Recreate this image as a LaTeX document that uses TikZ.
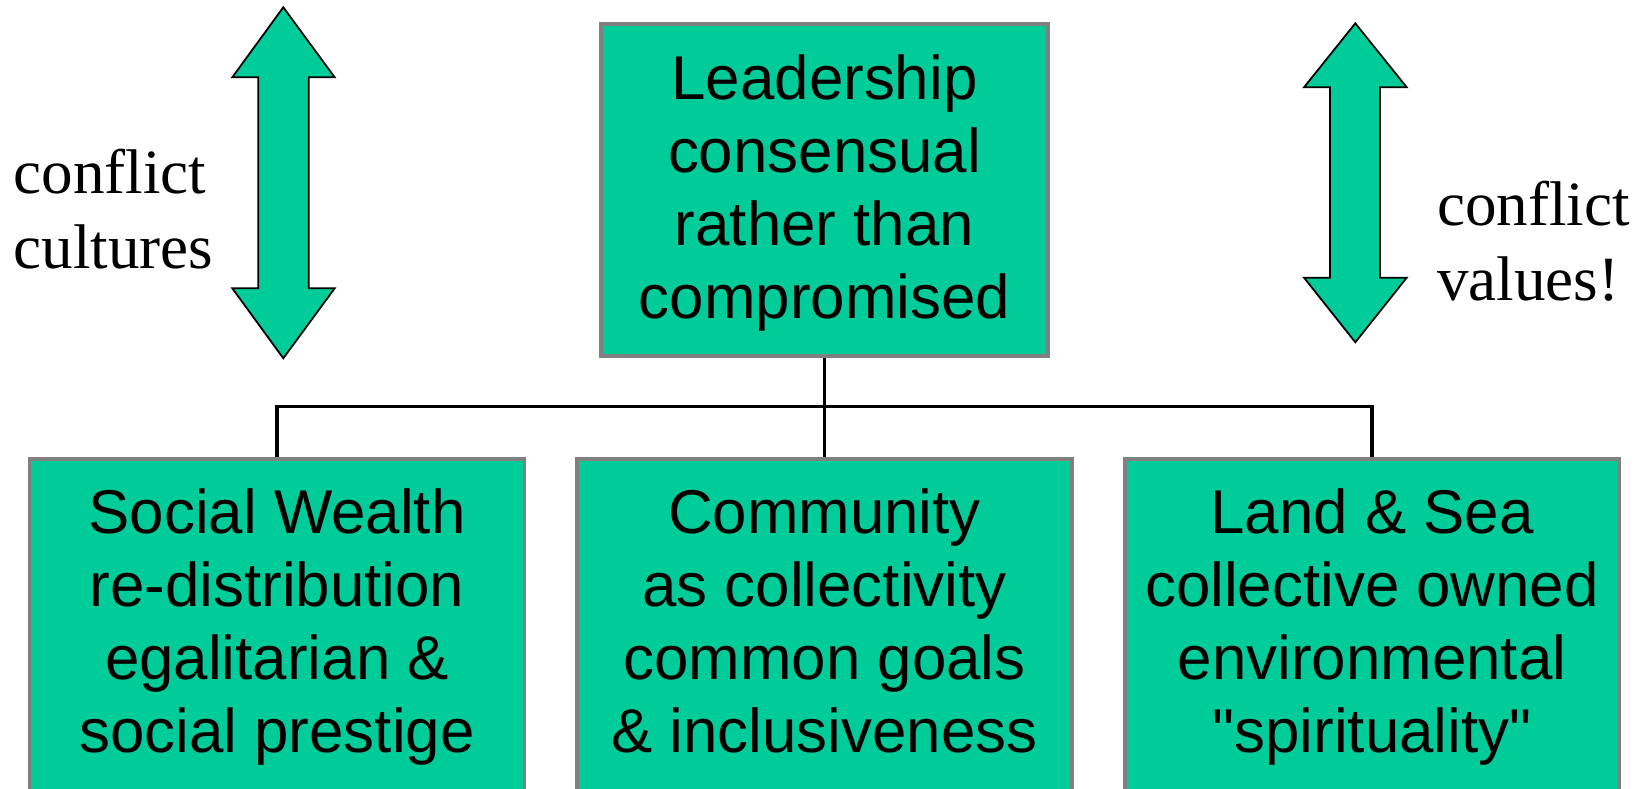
\documentclass[tikz,border=0pt]{standalone}
\usepackage{fontspec}
\setmainfont{Liberation Serif}
\newfontfamily\boxfont{Liberation Sans}
\usepackage{tikz}
\usepackage{xcolor}
\definecolor{boxgreen}{HTML}{00CC99}
\definecolor{boxgray}{HTML}{808080}

\begin{document}
\begin{tikzpicture}[x=0.02cm, y=0.02cm,
    valuebox/.style={draw=boxgray, fill=boxgreen, line width=2.2pt, align=center, inner sep=0pt,
        font=\boxfont\fontsize{35.2}{41.5}\selectfont, text height=5.268cm, text depth=0.26cm,
        minimum width=9.9cm, minimum height=6.74cm},
    sidetext/.style={align=left, anchor=north west, inner sep=0pt, font=\fontsize{35.9}{43.1}\selectfont},
    link/.style={line width=1.9pt}]
    \useasboundingbox (0,0) rectangle (1648,788);
    \filldraw[fill=boxgreen, draw=black, line width=1pt] (283.3,780.7) -- (334.7,710.7) -- (308.7,710.7) -- (308.7,499.7) -- (334.7,499.7) -- (283.3,429.7) -- (232.3,499.7) -- (258.3,499.7) -- (258.3,710.7) -- (232.3,710.7) -- cycle;
    \filldraw[fill=boxgreen, draw=black, line width=1pt] (1355.3,764.7) -- (1406.7,700.7) -- (1380,700.7) -- (1380,510.3) -- (1406.7,510.3) -- (1355.3,445.7) -- (1304,510.3) -- (1330,510.3) -- (1330,700.7) -- (1304,700.7) -- cycle;
    \node[sidetext] (cultures) at (13.3,639.6) {conflict\\cultures};
    \node[sidetext] (values) at (1436.7,607.6) {conflict\\values!};
    \node[valuebox, minimum width=8.93cm, minimum height=6.64cm, text height=5.392cm] (lead) at (824.5,598) {Leadership\\consensual\\rather than\\compromised};
    \node[valuebox] (social) at (277,160.9) {Social Wealth\\re-distribution\\egalitarian \&\\social prestige};
    \node[valuebox] (community) at (824.5,160.9) {Community\\as collectivity\\common goals\\\& inclusiveness};
    \node[valuebox] (land) at (1372,160.9) {Land \& Sea\\collective owned\\environmental\\"spirituality"};
    \coordinate (bar) at (824.5,381.3);
    \draw[link] (lead) -- (bar) -| (social);
    \draw[link] (bar) -| (land);
    \draw[link] (bar) -- (community);
\end{tikzpicture}
\end{document}
